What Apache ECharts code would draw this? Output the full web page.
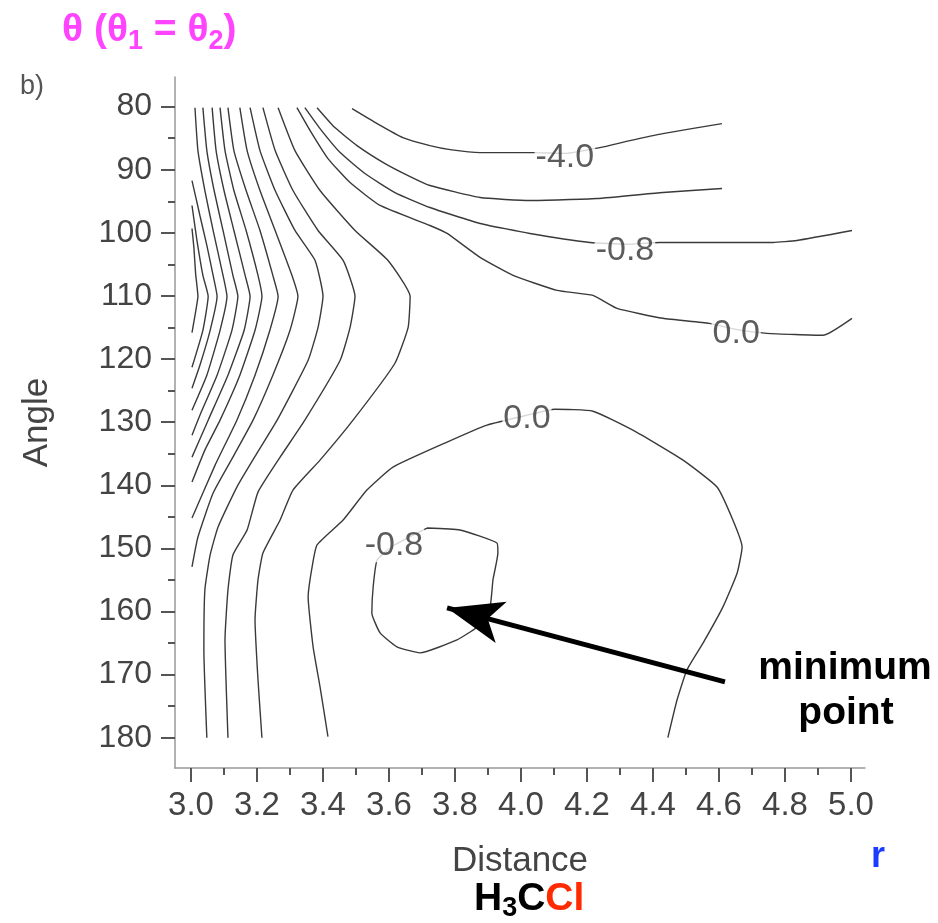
<!DOCTYPE html>
<html>
<head>
<meta charset="utf-8">
<script src="https://cdn.jsdelivr.net/npm/echarts@6/dist/echarts.min.js"></script>
<style>
html,body{margin:0;padding:0;background:#fff;}
#chart{width:938px;height:923px;}
</style>
</head>
<body>
<div id="chart"></div>
<script>
// ---- tick labels ----
const xMajorTicks = [3.0,3.2,3.4,3.6,3.8,4.0,4.2,4.4,4.6,4.8,5.0];
const xMinorTicks = [3.1,3.3,3.5,3.7,3.9,4.1,4.3,4.5,4.7,4.9];
const yMajorTicks = [80,90,100,110,120,130,140,150,160,170,180];
const yMinorTicks = [85,95,105,115,125,135,145,155,165,175];

// ---- contour lines [distance, angle] ----
const c1 = [[3.003,99.3],[3.009,102.5],[3.014,106.5],[3.021,110.06],[3.012,113.1],[3.003,115.8]];
const c2 = [[3.003,95.66],[3.018,101.2],[3.036,106.74],[3.052,110.06],[3.036,115.44],[3.003,121.3]];
const c3 = [[3.003,91.71],[3.027,97.25],[3.048,101.99],[3.067,106.74],[3.079,110.06],[3.058,115.44],[3.027,120.98],[3.003,124.62]];
const c4 = [[3.012,80.16],[3.021,86.96],[3.042,93.29],[3.067,99.62],[3.097,106.74],[3.109,110.06],[3.088,115.44],[3.048,122.56],[3.003,128.1]];
const c5 = [[3.036,80.16],[3.048,86.96],[3.07,93.29],[3.097,99.62],[3.127,106.74],[3.142,110.06],[3.124,115.44],[3.079,122.56],[3.027,128.89],[3.003,132.06]];
const c6 = [[3.064,80.16],[3.076,86.96],[3.1,93.29],[3.13,99.62],[3.164,106.74],[3.179,110.06],[3.161,115.44],[3.112,122.56],[3.052,129.68],[3.003,135.54]];
const c7 = [[3.088,80.16],[3.103,86.96],[3.13,93.29],[3.167,99.62],[3.203,106.74],[3.215,110.06],[3.194,115.44],[3.148,122.56],[3.088,129.68],[3.042,134.43],[3.003,139.49]];
const c8 = [[3.112,80.16],[3.13,86.96],[3.167,93.29],[3.209,99.62],[3.248,106.74],[3.264,110.06],[3.239,115.44],[3.194,122.56],[3.139,129.68],[3.073,136.8],[3.003,145.19]];
const c9 = [[3.148,80.16],[3.17,86.96],[3.209,93.29],[3.255,99.62],[3.306,106.74],[3.324,110.06],[3.3,115.44],[3.248,122.56],[3.188,129.68],[3.127,135.54],[3.067,141.23],[3.021,148.2],[3.003,152.94]];
const c10 = [[3.179,80.16],[3.209,86.96],[3.255,93.29],[3.315,99.62],[3.376,104.37],[3.4,110.06],[3.385,114.97],[3.355,120.19],[3.261,129.68],[3.2,134.91],[3.139,140.28],[3.082,146.61],[3.058,151.04],[3.042,156.58],[3.039,166.08],[3.048,180]];
const c11 = [[3.218,80.16],[3.255,86.96],[3.309,93.29],[3.385,99.62],[3.461,104.37],[3.497,110.06],[3.482,114.97],[3.452,120.19],[3.345,129.68],[3.27,135.54],[3.203,141.08],[3.17,147.09],[3.127,151.04],[3.112,156.58],[3.103,164.49],[3.112,180]];
const c12 = [[3.264,80.16],[3.315,86.96],[3.391,93.29],[3.497,99.62],[3.597,104.37],[3.664,110.06],[3.658,114.97],[3.618,120.66],[3.491,129.68],[3.391,136.01],[3.309,140.76],[3.27,145.51],[3.218,150.73],[3.203,155.0],[3.194,161.33],[3.203,170.82],[3.215,180]];
const lineM40 = [[3.488,80.32],[3.564,82.69],[3.642,84.91],[3.724,86.17],[3.785,86.8],[3.876,87.28],[4.036,87.28],[4.133,87.4],[4.239,86.49],[4.33,85.38],[4.43,84.27],[4.609,82.69]];
const lineUpper = [[3.382,80.16],[3.436,83.32],[3.503,86.17],[3.588,89.02],[3.664,91.08],[3.724,92.5],[3.876,94.4],[4.027,94.87],[4.23,94.56],[4.43,93.61],[4.609,92.97]];
const lineM08Upper = [[3.345,80.16],[3.391,83.48],[3.452,87.28],[3.527,90.6],[3.618,93.61],[3.724,95.98],[3.876,98.51],[4.027,100.09],[4.209,101.52],[4.315,101.8],[4.421,101.52],[4.764,101.52],[4.836,101.2],[5.003,99.62]];
const line00Upper = [[3.321,80.16],[3.361,83.8],[3.415,88.23],[3.482,92.03],[3.573,95.66],[3.724,98.83],[3.776,100.09],[3.876,103.89],[3.976,106.74],[4.109,109.11],[4.218,109.91],[4.291,111.96],[4.43,113.54],[4.57,114.34],[4.652,115.3],[4.745,115.92],[4.915,116.23],[5.003,113.54]];
const loop00 = [[3.415,179.84],[3.391,171.93],[3.37,165.6],[3.355,157.69],[3.367,152.94],[3.382,149.46],[3.461,145.51],[3.533,140.76],[3.612,137.12],[3.776,133.16],[3.897,130.47],[4.018,128.89],[4.103,127.94],[4.218,128.26],[4.339,131.27],[4.491,136.01],[4.594,140.28],[4.642,145.51],[4.67,149.78],[4.655,153.89],[4.612,159.27],[4.552,164.97],[4.503,169.24],[4.473,173.99],[4.445,180]];
const loopM08 = [[3.715,146.77],[3.815,147.09],[3.927,149.15],[3.93,150.73],[3.915,155.0],[3.906,159.27],[3.867,162.44],[3.806,164.49],[3.694,166.55],[3.624,165.6],[3.573,163.39],[3.548,160.22],[3.552,156.11],[3.564,151.84],[3.615,149.5],[3.715,146.77]];

const contourLines = [c1,c2,c3,c4,c5,c6,c7,c8,c9,c10,c11,c12,lineM40,lineUpper,lineM08Upper,line00Upper,loop00,loopM08];

// ---- contour labels ----
const labelTexts = ['-4.0','-0.8','0.0','0.0','-0.8'];
const labelPos = [[4.133,88.0],[4.315,102.8],[4.652,115.9],[4.018,129.5],[3.615,149.5]];

// ---- arrow (minimum point) ----
const arrowFrom = [4.618,171.14];
const arrowTo = [3.776,159.43];

const FONT = '"Liberation Sans", Arial, Helvetica, sans-serif';
const TXT = '#444';

const chart = echarts.init(document.getElementById('chart'), null, {renderer:'canvas'});

const series = contourLines.map(d => ({
  type:'line', data:d, symbol:'none', smooth:0.15, silent:true,
  lineStyle:{color:'#3a3a3a', width:1.4}, z:2, animation:false
}));

series.push({
  type:'scatter', symbolSize:0, silent:true, z:5, animation:false,
  data: labelTexts.map((t,i)=>({name:t, value:labelPos[i]})),
  label:{show:true, position:'inside', formatter:p=>p.name, fontFamily:FONT, fontSize:34,
         color:'#333', backgroundColor:'#fff', padding:[0,1]}
});

series.push({
  type:'line', data:[], silent:true, animation:false, z:6,
  markLine:{silent:true, animation:false, symbol:['none','arrow'], symbolSize:[32,56],
    lineStyle:{color:'#000', width:5, type:'solid'}, label:{show:false},
    data:[[{coord:arrowFrom},{coord:arrowTo}]]}
});

const axisCommonX = {type:'value', min:2.9515, max:5.0424, position:'bottom', splitLine:{show:false}};
const axisCommonY = {type:'value', min:75.3, max:184.8, inverse:true, position:'left', splitLine:{show:false}};

const option = {
  animation:false,
  backgroundColor:'#fff',
  grid:{left:175, right:73, top:77, bottom:155, containLabel:false},
  xAxis:[
    Object.assign({}, axisCommonX, {
      axisLine:{show:true, lineStyle:{color:'#999', width:1.5}},
      axisTick:{show:true, customValues:xMajorTicks, length:14, lineStyle:{color:'#555', width:2}},
      axisLabel:{show:true, customValues:xMajorTicks, formatter:v=>Number(v).toFixed(1), fontSize:33, fontFamily:FONT, color:TXT, margin:21},
      name:'Distance', nameLocation:'middle', nameGap:76,
      nameTextStyle:{fontSize:35, fontFamily:FONT, color:TXT}
    }),
    Object.assign({}, axisCommonX, {
      axisLine:{show:false},
      axisTick:{show:true, customValues:xMinorTicks, length:7, lineStyle:{color:'#555', width:2}},
      axisLabel:{show:false}
    })
  ],
  yAxis:[
    Object.assign({}, axisCommonY, {
      axisLine:{show:true, lineStyle:{color:'#999', width:1.5}},
      axisTick:{show:true, customValues:yMajorTicks, length:14, lineStyle:{color:'#555', width:2}},
      axisLabel:{show:true, customValues:yMajorTicks, fontSize:32, fontFamily:FONT, color:TXT, margin:23},
      name:'Angle', nameLocation:'middle', nameGap:120, nameRotate:90,
      nameTextStyle:{fontSize:35, fontFamily:FONT, color:TXT}
    }),
    Object.assign({}, axisCommonY, {
      axisLine:{show:false},
      axisTick:{show:true, customValues:yMinorTicks, length:7, lineStyle:{color:'#555', width:2}},
      axisLabel:{show:false}
    })
  ],
  graphic:[
    {type:'text', left:62, top:11, z:10, style:{
      text:'{m|θ (θ}{s|1}{m| = θ}{s|2}{m|)}',
      rich:{
        m:{fontSize:39, fontWeight:'bold', fontFamily:FONT, fill:'#ff44ff', lineHeight:50, verticalAlign:'middle'},
        s:{fontSize:27, fontWeight:'bold', fontFamily:FONT, fill:'#ff44ff', lineHeight:27, verticalAlign:'bottom'}
      }}},
    {type:'text', left:20, top:73, z:10, style:{text:'b)', font:'27px '+FONT, fill:'#555'}},
    {type:'text', x:845, y:668, z:10, style:{text:'minimum', font:'bold 39px '+FONT, fill:'#000', textAlign:'center', textVerticalAlign:'middle'}},
    {type:'text', x:846, y:713, z:10, style:{text:'point', font:'bold 39px '+FONT, fill:'#000', textAlign:'center', textVerticalAlign:'middle'}},
    {type:'text', x:878, y:857, z:10, style:{text:'r', font:'bold 36px '+FONT, fill:'#1a3cff', textAlign:'center', textVerticalAlign:'middle'}},
    {type:'text', left:474, top:880, z:10, style:{
      text:'{k|H}{s|3}{k|C}{r|Cl}',
      rich:{
        k:{fontSize:39, fontWeight:'bold', fontFamily:FONT, fill:'#000', lineHeight:46, verticalAlign:'middle'},
        s:{fontSize:27, fontWeight:'bold', fontFamily:FONT, fill:'#000', lineHeight:27, verticalAlign:'bottom'},
        r:{fontSize:39, fontWeight:'bold', fontFamily:FONT, fill:'#ff2a00', lineHeight:46, verticalAlign:'middle'}
      }}}
  ],
  series:series
};
chart.setOption(option);
</script>
</body>
</html>
